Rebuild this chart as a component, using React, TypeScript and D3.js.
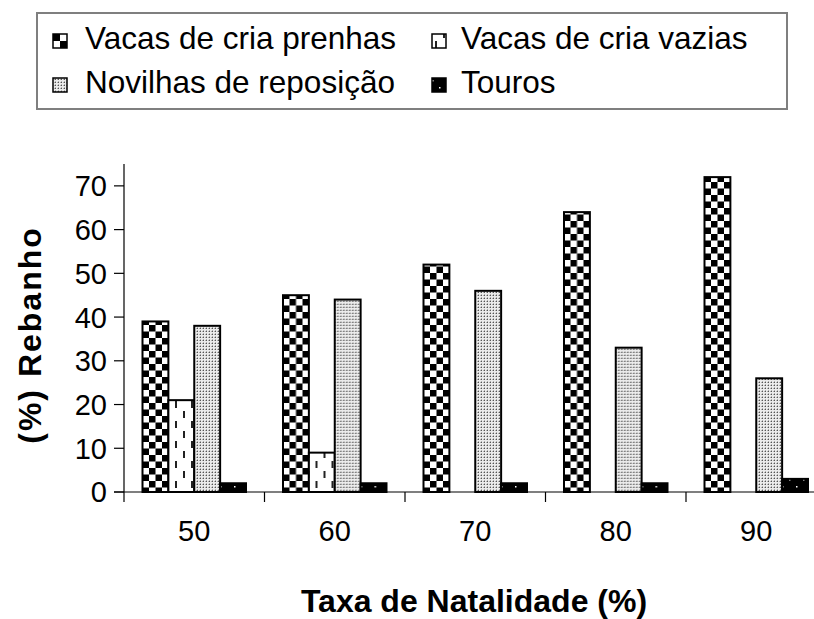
import React from "react";
import * as d3 from "d3";

const categories = ["50", "60", "70", "80", "90"];
const seriesNames = [
  "Vacas de cria prenhas",
  "Vacas de cria vazias",
  "Novilhas de reposição",
  "Touros",
];
const prenhas = [39, 45, 52, 64, 72];
const vazias = [21, 9, 0, 0, 0];
const novilhas = [38, 44, 46, 33, 26];
const touros = [2, 2, 2, 2, 3];
const yTicks = [0, 10, 20, 30, 40, 50, 60, 70];

const seriesValues = [prenhas, vazias, novilhas, touros];
const patternIds = ["pChecker", "pDash", "pDots", "pBlack"];

export default function App() {
  const W = 814;
  const H = 619;
  const x0 = 124;
  const x1 = 826.5;
  const y = d3.scaleLinear().domain([0, 75]).range([492, 164]);
  const xb = d3.scaleBand<string>().domain(categories).range([x0, x1]).padding(0);
  const bw = xb.bandwidth();
  const pad = 18.5;
  const xs = d3
    .scaleBand<string>()
    .domain(seriesNames)
    .range([pad, bw - pad])
    .padding(0);

  const font = "'Liberation Sans', Arial, sans-serif";

  const legendItems = [
    { name: seriesNames[0], sx: 53, sy: 34, tx: 85, ty: 49 },
    { name: seriesNames[1], sx: 432, sy: 34, tx: 461, ty: 49 },
    { name: seriesNames[2], sx: 53, sy: 78, tx: 85, ty: 93 },
    { name: seriesNames[3], sx: 432, sy: 78, tx: 461, ty: 93 },
  ];

  return (
    <div style={{ position: "absolute", left: 0, top: 0 }}>
      <svg width={W} height={H} style={{ display: "block", background: "#fff" }}>
        <defs>
          <pattern id="pChecker" width={13} height={13} patternUnits="userSpaceOnUse" x={142} y={0}>
            <rect width={13} height={13} fill="#fff" />
            <rect x={0} y={0} width={6.5} height={6.5} fill="#000" />
            <rect x={6.5} y={6.5} width={6.5} height={6.5} fill="#000" />
          </pattern>
          <pattern id="pCheckerL" width={14} height={14} patternUnits="userSpaceOnUse" x={53} y={34}>
            <rect width={14} height={14} fill="#fff" />
            <rect x={0} y={0} width={7} height={7} fill="#000" />
            <rect x={7} y={7} width={7} height={7} fill="#000" />
          </pattern>
          <pattern id="pDash" width={16} height={20} patternUnits="userSpaceOnUse">
            <rect width={16} height={20} fill="#fff" />
            <rect x={3} y={1} width={2} height={7} fill="#222" />
            <rect x={11} y={11} width={2} height={7} fill="#222" />
          </pattern>
          <pattern id="pDots" width={3} height={3} patternUnits="userSpaceOnUse">
            <rect width={3} height={3} fill="#ebebeb" />
            <rect x={1} y={1} width={1} height={1} fill="#555" />
            <rect x={0} y={1} width={1} height={1} fill="#b0b0b0" />
            <rect x={1} y={0} width={1} height={1} fill="#b0b0b0" />
          </pattern>
          <pattern id="pBlack" width={14} height={14} patternUnits="userSpaceOnUse">
            <rect width={14} height={14} fill="#000" />
            <rect x={5} y={3} width={1.5} height={1.5} fill="#fff" />
            <rect x={12} y={10} width={1.5} height={1.5} fill="#fff" />
          </pattern>
        </defs>

        {/* Legend */}
        <rect x={37} y={13} width={750} height={96} fill="#fff" stroke="#7f7f7f" strokeWidth={2} />
        {legendItems.map((it, i) => (
          <g key={it.name}>
            <rect
              x={it.sx}
              y={it.sy}
              width={14}
              height={14}
              fill={`url(#${i === 0 ? "pCheckerL" : patternIds[i]})`}
              stroke="#000"
              strokeWidth={1.5}
            />
            <text x={it.tx} y={it.ty} fontFamily={font} fontSize={31.5} fill="#000">
              {it.name}
            </text>
          </g>
        ))}

        {/* Bars */}
        {categories.map((c, ci) => (
          <g key={c} transform={`translate(${xb(c)},0)`}>
            {seriesNames.map((s, si) => {
              const v = seriesValues[si][ci];
              if (!v) return null;
              return (
                <rect
                  key={s}
                  x={xs(s)}
                  y={y(v)}
                  width={xs.bandwidth()}
                  height={y(0) - y(v)}
                  fill={`url(#${patternIds[si]})`}
                  stroke="#000"
                  strokeWidth={2}
                />
              );
            })}
          </g>
        ))}

        {/* Y axis */}
        <line x1={x0} x2={x0} y1={y(75)} y2={502} stroke="#000" strokeWidth={1.2} />
        {yTicks.map((t) => (
          <g key={t}>
            <line x1={x0 - 10} x2={x0} y1={y(t)} y2={y(t)} stroke="#000" strokeWidth={1.2} />
            <text
              x={107}
              y={y(t)}
              dy="0.36em"
              textAnchor="end"
              fontFamily={font}
              fontSize={29}
              fill="#000"
            >
              {t}
            </text>
          </g>
        ))}

        {/* X axis */}
        <line x1={x0 - 10} x2={W} y1={y(0)} y2={y(0)} stroke="#000" strokeWidth={1.2} />
        {categories.map((c, i) =>
          i === 0 ? null : (
            <line
              key={c}
              x1={xb(c)}
              x2={xb(c)}
              y1={y(0)}
              y2={y(0) + 10}
              stroke="#000"
              strokeWidth={1.2}
            />
          )
        )}
        {categories.map((c) => (
          <text
            key={c}
            x={(xb(c) as number) + bw / 2}
            y={541}
            textAnchor="middle"
            fontFamily={font}
            fontSize={29}
            fill="#000"
          >
            {c}
          </text>
        ))}

        {/* Titles */}
        <text
          x={474}
          y={612}
          textAnchor="middle"
          fontFamily={font}
          fontWeight="bold"
          fontSize={32}
          fill="#000"
        >
          Taxa de Natalidade (%)
        </text>
        <text
          transform="translate(41,335) rotate(-90)"
          textAnchor="middle"
          fontFamily={font}
          fontWeight="bold"
          fontSize={32}
          letterSpacing={2}
          fill="#000"
        >
          (%) Rebanho
        </text>
      </svg>
    </div>
  );
}
